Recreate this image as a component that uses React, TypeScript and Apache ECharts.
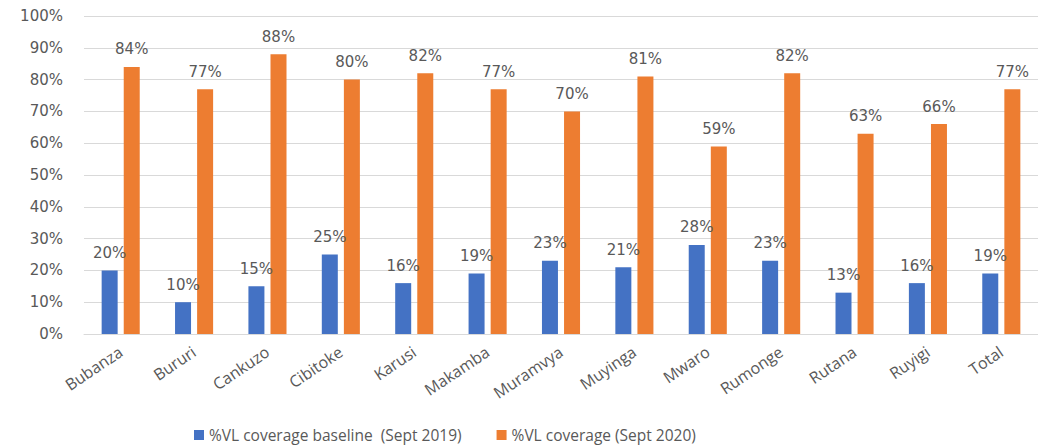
import React, { useEffect, useRef } from "react";
import * as echarts from "echarts";

const categories = ["Bubanza", "Bururi", "Cankuzo", "Cibitoke", "Karusi", "Makamba", "Muramvya", "Muyinga", "Mwaro", "Rumonge", "Rutana", "Ruyigi", "Total"];
const baseline2019 = [20, 10, 15, 25, 16, 19, 23, 21, 28, 23, 13, 16, 19];
const coverage2020 = [84, 77, 88, 80, 82, 77, 70, 81, 59, 82, 63, 66, 77];
const yTicks = [0, 10, 20, 30, 40, 50, 60, 70, 80, 90, 100];
const seriesNames = ["%VL coverage baseline  (Sept 2019)", "%VL coverage (Sept 2020)"];

const NUM_FONT = "'DejaVu Sans', 'Open Sans', sans-serif";
const TXT_FONT = "'Open Sans', 'Noto Sans', sans-serif";
const GRAY = "#595959";

export default function App() {
  const ref = useRef<HTMLDivElement>(null);
  useEffect(() => {
    if (!ref.current) return;
    const chart = echarts.init(ref.current, null, { renderer: "svg" });
    const label = {
      show: true,
      position: "top",
      distance: 10,
      formatter: (p: any) => p.value + "%",
      color: GRAY,
      fontSize: 15,
      fontFamily: NUM_FONT,
    };
    chart.setOption({
      animation: false,
      backgroundColor: "#ffffff",
      textStyle: { fontFamily: TXT_FONT },
      grid: { left: 84, right: 0, top: 16, bottom: 114 },
      legend: {
        left: 189,
        top: 421,
        itemWidth: 10,
        itemHeight: 10,
        itemGap: 35,
        icon: "rect",
        textStyle: { color: GRAY, fontSize: 15.5, lineHeight: 18, fontFamily: TXT_FONT },
        data: seriesNames,
      },
      xAxis: {
        type: "category",
        data: categories,
        axisLine: { show: true, lineStyle: { color: "#d9d9d9", width: 1 } },
        axisTick: { show: false },
        axisLabel: { rotate: 34, color: GRAY, fontSize: 16, fontFamily: TXT_FONT, margin: 16, interval: 0 },
      },
      yAxis: {
        type: "value",
        min: yTicks[0],
        max: yTicks[yTicks.length - 1],
        interval: 10,
        axisLine: { show: false },
        axisTick: { show: false },
        splitLine: { lineStyle: { color: "#d9d9d9", width: 1 } },
        axisLabel: { formatter: "{value}%", color: GRAY, fontSize: 15, fontFamily: NUM_FONT, margin: 21 },
      },
      series: [
        {
          name: seriesNames[0],
          type: "bar",
          data: baseline2019,
          barWidth: 16,
          barGap: "38%",
          itemStyle: { color: "#4472c4" },
          label,
        },
        {
          name: seriesNames[1],
          type: "bar",
          data: coverage2020,
          barWidth: 16,
          itemStyle: { color: "#ed7d31" },
          label,
        },
      ],
    });
    return () => chart.dispose();
  }, []);
  return <div ref={ref} style={{ position: "fixed", left: 0, top: 0, width: 1038, height: 448 }} />;
}
